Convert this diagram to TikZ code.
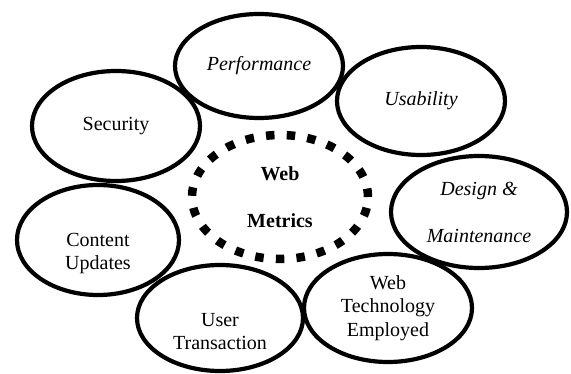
\documentclass[tikz,border=0pt]{standalone}
\usepackage{fontspec}
\setmainfont{Liberation Serif}
\usetikzlibrary{shapes.geometric}
\tikzset{font=\fontsize{20}{23.5}\selectfont}
\tikzset{metric/.style={ellipse, draw, line width=4.2pt, inner sep=0pt, align=center}}
\tikzset{core/.style={ellipse, draw, line width=8.5pt, dash pattern=on 8.5pt off 12.2pt, inner sep=0pt, align=center, font=\fontsize{20}{47}\selectfont\bfseries}}

\begin{document}
\begin{tikzpicture}[x=1pt, y=-1pt]
	\useasboundingbox (0, 0) rectangle (571, 374);
	\begin{scope}
		\node[core, minimum width=176, minimum height=124] (web) at (280, 197) {Web\\Metrics};

		\node[metric, minimum width=168, minimum height=104] (perf) at (259, 66) {\itshape Performance};
		\node[metric, minimum width=168, minimum height=108] (usab) at (421, 101) {\itshape Usability};
		\node[metric, minimum width=168, minimum height=110] (secu) at (116, 126) {Security};
		\node[metric, minimum width=176, minimum height=112, font=\fontsize{20}{47}\selectfont\itshape] (desi) at (479, 212) {Design \&\\Maintenance};
		\node[metric, minimum width=162, minimum height=110] (cont) at (98, 240) {\strut\\Content\\Updates};
		\node[metric, minimum width=166, minimum height=106] (user) at (220, 318) {\strut\\User\\Transaction};
		\node[metric, minimum width=168, minimum height=108] (tech) at (388, 308) {Web\\Technology\\Employed};
	\end{scope}
\end{tikzpicture}
\end{document}
